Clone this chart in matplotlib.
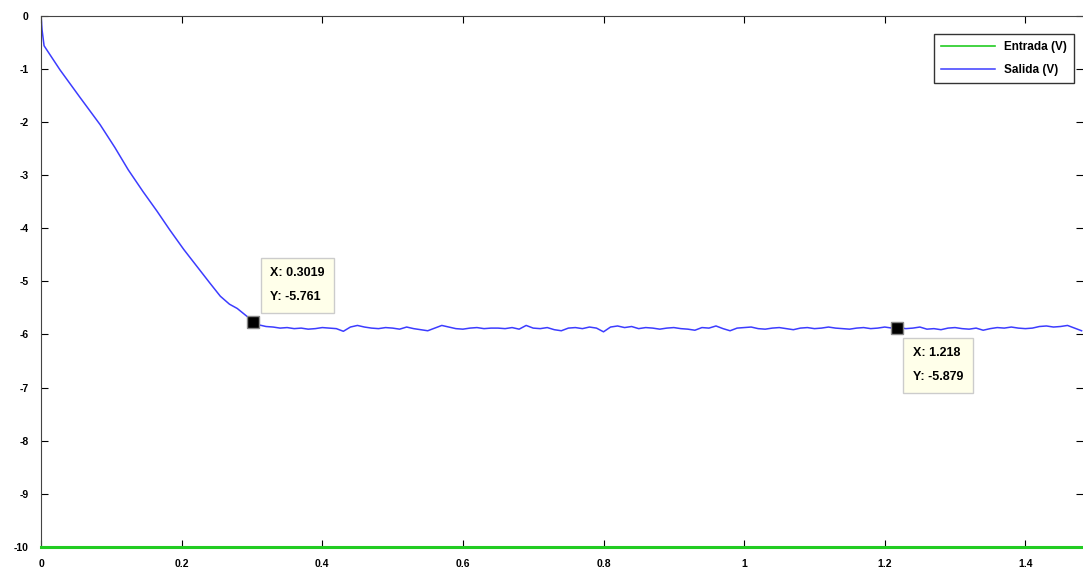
import numpy as np
import matplotlib
matplotlib.use('Agg')
from matplotlib import pyplot as plt

# salida (V): transitorio
t_fall = [0.0, 0.0014, 0.0043, 0.027, 0.055, 0.084, 0.105, 0.124, 0.145, 0.165,
          0.183, 0.203, 0.223, 0.240, 0.255, 0.268, 0.279, 0.293, 0.3019]
v_fall = [0.0, -0.26, -0.565, -1.02, -1.53, -2.05, -2.48, -2.90, -3.31, -3.68,
          -4.03, -4.40, -4.74, -5.03, -5.28, -5.43, -5.51, -5.66, -5.761]

# regimen permanente, cada 0.01 s desde 0.31
v_tail = [-5.82, -5.85, -5.86, -5.88, -5.87, -5.89, -5.88, -5.90, -5.89, -5.87,
          -5.88, -5.89, -5.94, -5.86, -5.83, -5.86, -5.88, -5.89, -5.87, -5.88,
          -5.90, -5.86, -5.89, -5.91, -5.93, -5.88, -5.83, -5.86, -5.89, -5.90,
          -5.88, -5.87, -5.89, -5.88, -5.88, -5.89, -5.87, -5.90, -5.83, -5.88,
          -5.89, -5.87, -5.91, -5.93, -5.88, -5.87, -5.89, -5.86, -5.88, -5.95,
          -5.86, -5.84, -5.87, -5.85, -5.89, -5.87, -5.88, -5.90, -5.88, -5.87,
          -5.89, -5.90, -5.92, -5.87, -5.88, -5.84, -5.89, -5.93, -5.88, -5.87,
          -5.86, -5.89, -5.90, -5.88, -5.87, -5.89, -5.91, -5.88, -5.87, -5.89,
          -5.88, -5.86, -5.88, -5.89, -5.90, -5.88, -5.87, -5.89, -5.88, -5.86,
          -5.879, -5.87, -5.89, -5.88, -5.86, -5.90, -5.89, -5.91, -5.88, -5.87,
          -5.89, -5.90, -5.88, -5.92, -5.89, -5.87, -5.88, -5.86, -5.88, -5.89,
          -5.88, -5.85, -5.84, -5.86, -5.85, -5.83, -5.88, -5.93]
t_tail = np.round(0.31 + 0.01 * np.arange(len(v_tail)), 3)

t = np.concatenate([t_fall, t_tail])
salida = np.concatenate([v_fall, v_tail])

entrada_t = [0.0, 1.5]
entrada_v = [-10.0, -10.0]

tips = [(0.3019, -5.761), (1.218, -5.879)]
xticks = [0, 0.2, 0.4, 0.6, 0.8, 1, 1.2, 1.4]
xlabels = ['0', '0.2', '0.4', '0.6', '0.8', '1', '1.2', '1.4']
yticks = list(range(0, -11, -1))

plt.rcParams['font.family'] = ['Liberation Sans', 'DejaVu Sans']

fig = plt.figure(figsize=(10.83, 5.70), dpi=100)
ax = fig.add_axes([0.0379, 0.0404, 1.0 - 0.0379, 0.932])

ax.plot(entrada_t, entrada_v, color='#22cc22', lw=2.2, label='Entrada (V)', clip_on=False, zorder=3)
ax.plot(t, salida, color='#3c3cff', lw=1.1, label='Salida (V)')

for (xt, yt), off in zip(tips, [(0.024, 0.686), (0.022, -0.70)]):
    ax.plot(xt, yt, marker='s', ms=8, mfc='black', mec='#888888', mew=1, zorder=5)
    ax.annotate('X: %s\nY: %s' % (('%g' % xt), ('%g' % yt)),
                xy=(xt + off[0], yt + off[1]), fontsize=9, fontweight='bold',
                ha='left', va='center', linespacing=2.35,
                bbox=dict(boxstyle='square,pad=0.75', fc='#ffffea', ec='#cccccc', lw=1),
                zorder=6)

ax.set_xlim(0, 1.482)
ax.set_ylim(-10, 0)
ax.set_xticks(xticks)
ax.set_xticklabels(xlabels)
ax.set_yticks(yticks)
ax.set_yticklabels([str(v) for v in yticks])
ax.tick_params(direction='in', length=5, top=True, right=True, labelsize=7.5, pad=9)
for lbl in ax.get_xticklabels() + ax.get_yticklabels():
    lbl.set_fontweight('bold')
for s in ax.spines.values():
    s.set_color('#444444')
ax.spines['right'].set_visible(False)

leg = ax.legend(loc='upper right', bbox_to_anchor=(0.997, 0.976), fontsize=8.5,
                fancybox=False, edgecolor='#333333', framealpha=1,
                handlelength=4.5, borderpad=0.6, labelspacing=0.9)
for txt in leg.get_texts():
    txt.set_fontweight('bold')
leg.get_lines()[0].set_linewidth(1.2)

fig.savefig('out.png', dpi=100)
